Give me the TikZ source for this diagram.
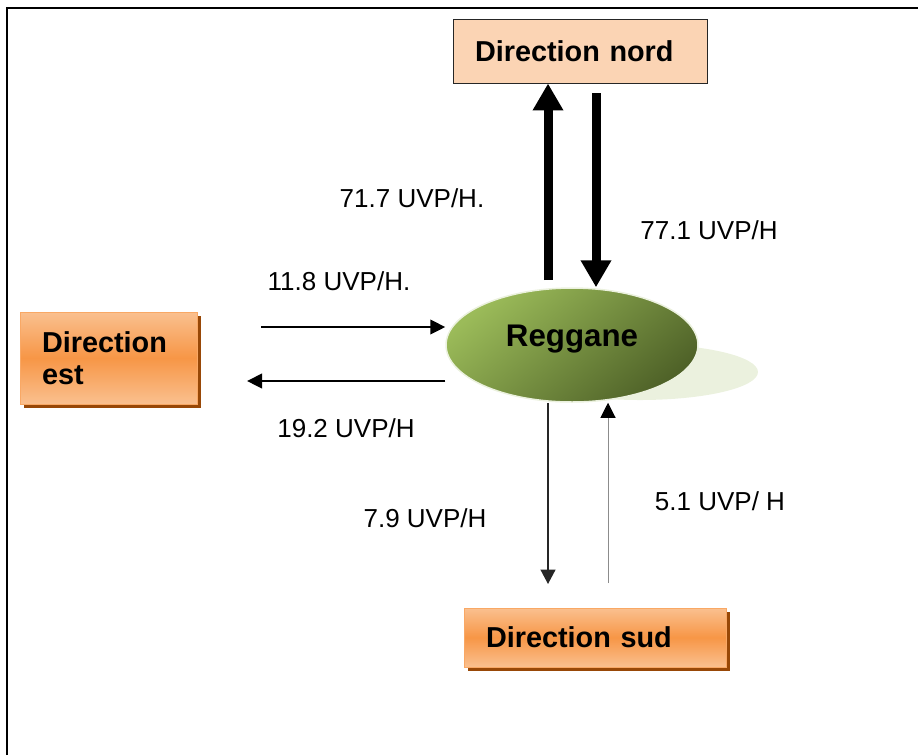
\documentclass[tikz,border=0pt]{standalone}
\usepackage{fontspec}
\setmainfont{Liberation Sans}
\usetikzlibrary{arrows.meta, shapes.geometric, shadows}

\definecolor{peach}{HTML}{FBD4B4}
\definecolor{boxOrange}{HTML}{F79646}
\definecolor{boxLight}{HTML}{FAC08F}
\definecolor{boxEdge}{HTML}{F9A865}
\definecolor{boxShadow}{HTML}{984807}
\definecolor{regLight}{HTML}{9BBB59}
\definecolor{regDark}{HTML}{4F6228}
\definecolor{regShade}{HTML}{EBF1DE}

\begin{document}
\begin{tikzpicture}[
    x=0.02cm, y=-0.02cm,
    font=\fontsize{14.8}{17}\selectfont,
    %% ── node styles ──────────────────────────────────────────
    Nbox/.style  = {draw=black!85, line width=0.02cm, fill=peach, align=left,
                    inner xsep=0.44cm, inner ysep=0pt, text width=4.22cm,
                    minimum height=1.28cm,
                    font=\fontsize{16.4}{19}\selectfont\bfseries},
    Obox/.style  = {draw=boxEdge, line width=0.02cm,
                    top color=boxLight, bottom color=boxLight,
                    middle color=boxOrange,
                    drop shadow={shadow xshift=0.07cm, shadow yshift=-0.08cm,
                                 fill=boxShadow, opacity=1},
                    align=left, inner xsep=0.44cm, inner ysep=0pt,
                    font=\fontsize{16.4}{18.2}\selectfont\bfseries},
    Rell/.style  = {ellipse, draw=regShade, line width=0.03cm,
                    top color=regLight, bottom color=regDark, shading angle=40,
                    minimum width=5.04cm, minimum height=2.28cm,
                    text depth=0.37cm,
                    font=\fontsize{17.8}{20}\selectfont\bfseries},
    lbl/.style   = {inner sep=0pt},
    %% ── arrow styles ─────────────────────────────────────────
    bigarr/.style  = {-{Triangle[width=0.58cm, length=0.54cm]}, line width=0.18cm},
    midarr/.style  = {-{Triangle[width=0.29cm, length=0.3cm]}, line width=0.045cm},
    thinarr/.style = {-{Triangle[width=0.3cm, length=0.29cm]}, line width=0.03cm,
                      draw=black!85},
    grayarr/.style = {-{Triangle[width=0.3cm, length=0.3cm, color=black]},
                      line width=0.02cm, draw=black!45}
]
\useasboundingbox (0,0) rectangle (918,755);

%% ── frame ────────────────────────────────────────────────────
\draw[line width=0.05cm] (7,755) -- (7,8) -- (918,8);

%% ── centre: Reggane ──────────────────────────────────────────
\fill[regShade] (640,372) ellipse [x radius=2.36cm, y radius=0.56cm];
\node[Rell] (reg) at (572,345) {Reggane};

%% ── directions ───────────────────────────────────────────────
\node[Nbox] (nord) at (580.5,51) {Direction nord};
\node[Obox, text width=2.68cm, minimum height=1.84cm] (est) at (109,358)
    {Direction\\est};
\node[Obox, text width=4.38cm, minimum height=1.18cm] (sud) at (595.5,637.5)
    {Direction sud};

%% ── free ends of the connectors ──────────────────────────────
\coordinate (nUp)  at (548,280);
\coordinate (nDn)  at (596,93);
\coordinate (eIn)  at (261,327);
\coordinate (eOut) at (247,381);
\coordinate (sDn)  at (548,584);
\coordinate (sUp)  at (608,583);

%% ── arrows: north ────────────────────────────────────────────
\draw[bigarr] (nUp) -- (nUp |- nord.south);
\draw[bigarr] (nDn) -- (nDn |- reg.north);

%% ── arrows: east ─────────────────────────────────────────────
\draw[midarr] (eIn) -- (eIn -| reg.west);
\draw[midarr] (reg.west |- eOut) -- (eOut);

%% ── arrows: south ────────────────────────────────────────────
\draw[thinarr] (sDn |- reg.south) -- (sDn);
\draw[grayarr] (sUp) -- (sUp |- reg.south);

%% ── flow labels ──────────────────────────────────────────────
\node[lbl] (vN1) at (412,198) {71.7 UVP/H.};
\node[lbl] (vN2) at (709,230) {77.1 UVP/H};
\node[lbl] (vE1) at (339,281) {11.8 UVP/H.};
\node[lbl] (vE2) at (346,428) {19.2 UVP/H};
\node[lbl] (vS1) at (425,518) {7.9 UVP/H};
\node[lbl] (vS2) at (720,501) {5.1 UVP/ H};

\end{tikzpicture}
\end{document}
